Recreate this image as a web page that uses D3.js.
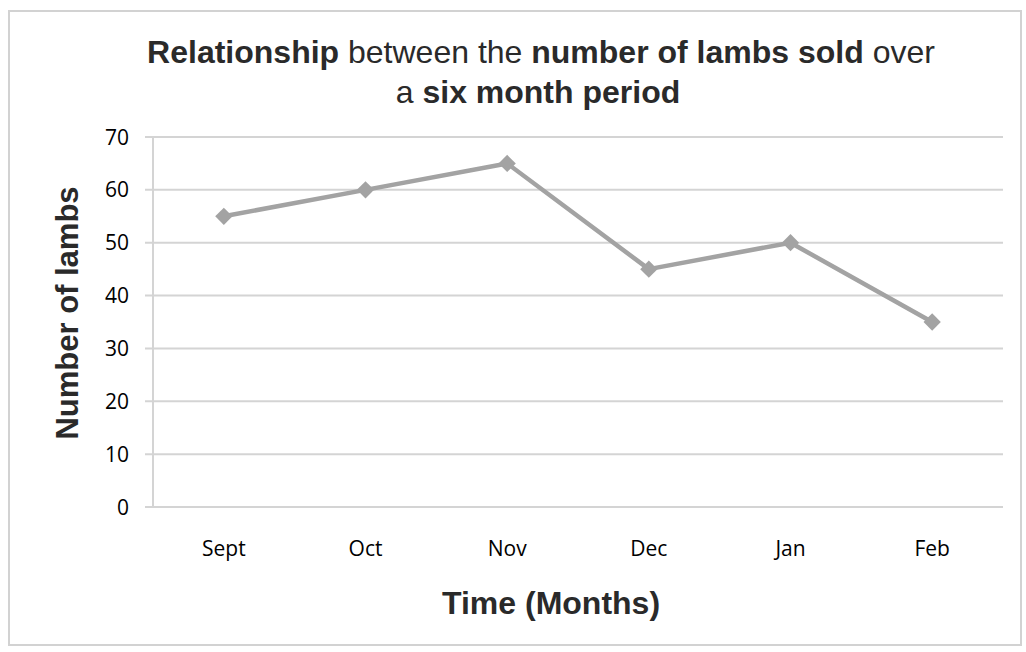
<!DOCTYPE html>
<html>
<head>
<meta charset="utf-8">
<script src="https://cdn.jsdelivr.net/npm/d3@7/dist/d3.min.js"></script>
<style>
  html, body { margin: 0; padding: 0; background: #fff; }
  svg { display: block; }
</style>
</head>
<body>
<svg id="chart" width="1026" height="652"></svg>
<script>
const months = ["Sept", "Oct", "Nov", "Dec", "Jan", "Feb"];
const lambs = [55, 60, 65, 45, 50, 35];
const yTicks = [0, 10, 20, 30, 40, 50, 60, 70];

const svg = d3.select("#chart");
const W = 1026, H = 652;
const margin = { left: 153, right: 23, top: 137, bottom: 145 };
const x0 = margin.left, x1 = W - margin.right, y0 = margin.top, y1 = H - margin.bottom;

// outer border
svg.append("rect").attr("x", 9).attr("y", 11).attr("width", 1012).attr("height", 634)
  .attr("fill", "#fff").attr("stroke", "#d2d2d2").attr("stroke-width", 2);

const x = d3.scaleBand().domain(months).range([x0, x1]);
const y = d3.scaleLinear().domain([0, 70]).range([y1, y0]);

// gridlines
svg.append("g").selectAll("line").data(yTicks).join("line")
  .attr("x1", x0 - 8).attr("x2", x1)
  .attr("y1", d => y(d)).attr("y2", d => y(d))
  .attr("stroke", "#d4d4d4").attr("stroke-width", 2);

// left axis line
svg.append("line").attr("x1", x0).attr("x2", x0).attr("y1", y0).attr("y2", y1)
  .attr("stroke", "#d4d4d4").attr("stroke-width", 2);

// y tick labels
svg.append("g").selectAll("text").data(yTicks).join("text")
  .attr("x", x0 - 24).attr("y", d => y(d)).attr("dy", "0.36em")
  .attr("text-anchor", "end")
  .attr("font-family", "'Open Sans', sans-serif").attr("font-size", 21).attr("fill", "#000")
  .text(d => d);

// x tick labels
svg.append("g").selectAll("text").data(months).join("text")
  .attr("x", d => x(d) + x.bandwidth() / 2).attr("y", 556)
  .attr("text-anchor", "middle")
  .attr("font-family", "'Open Sans', sans-serif").attr("font-size", 21).attr("fill", "#000")
  .text(d => d);

// line
const line = d3.line().x((d, i) => x(months[i]) + x.bandwidth() / 2).y(d => y(d));
svg.append("path").datum(lambs).attr("d", line)
  .attr("fill", "none").attr("stroke", "#a3a3a3").attr("stroke-width", 4.5)
  .attr("stroke-linejoin", "round");

// markers
svg.append("g").selectAll("path").data(lambs).join("path")
  .attr("transform", (d, i) => `translate(${x(months[i]) + x.bandwidth() / 2},${y(d)})`)
  .attr("d", d3.symbol(d3.symbolDiamond2, 190)())
  .attr("fill", "#a3a3a3");

// title
const title = svg.append("text").attr("text-anchor", "middle")
  .attr("font-family", "'Liberation Sans', Arial, sans-serif").attr("font-size", 32).attr("fill", "#2a2a2a");
const l1 = title.append("tspan").attr("x", 541).attr("y", 63);
l1.append("tspan").attr("font-weight", "bold").text("Relationship");
l1.append("tspan").text(" between the ");
l1.append("tspan").attr("font-weight", "bold").text("number of lambs sold");
l1.append("tspan").text(" over");
const l2 = title.append("tspan").attr("x", 538).attr("y", 103);
l2.append("tspan").text("a ");
l2.append("tspan").attr("font-weight", "bold").text("six month period");

// axis titles
svg.append("text").attr("x", 551).attr("y", 614).attr("text-anchor", "middle")
  .attr("font-family", "'Liberation Sans', Arial, sans-serif").attr("font-size", 32)
  .attr("font-weight", "bold").attr("fill", "#2a2a2a").text("Time (Months)");
svg.append("text").attr("transform", "translate(78,313) rotate(-90)").attr("text-anchor", "middle")
  .attr("font-family", "'Liberation Sans', Arial, sans-serif").attr("font-size", 31)
  .attr("font-weight", "bold").attr("fill", "#2a2a2a").text("Number of lambs");
</script>
</body>
</html>
